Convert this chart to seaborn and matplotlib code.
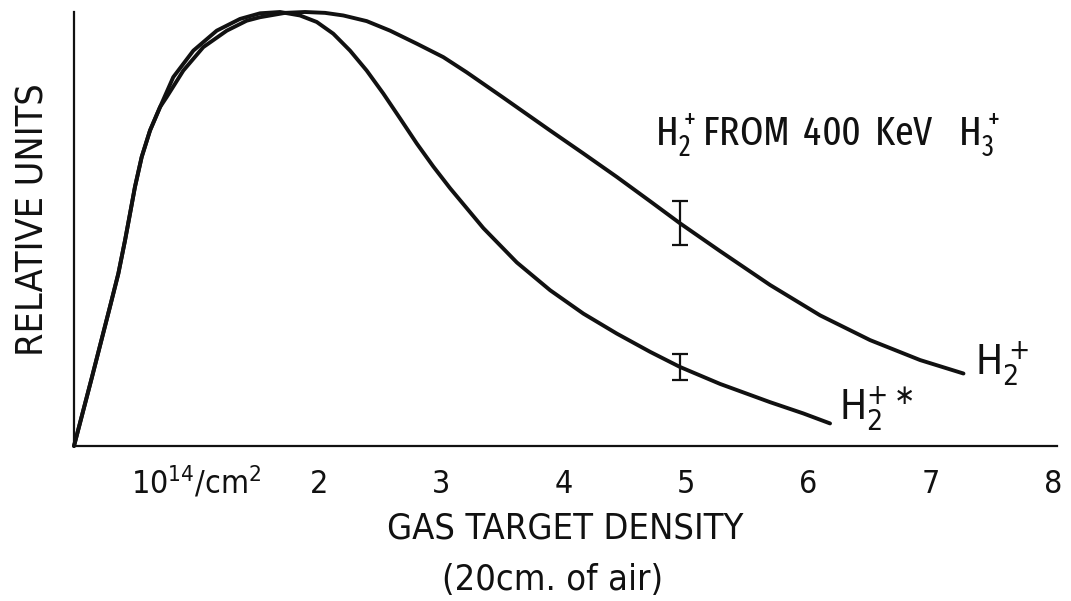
import matplotlib
matplotlib.use("Agg")
import matplotlib.pyplot as plt
import matplotlib.font_manager as fm
import seaborn as sns
import pandas as pd

# ---- data ----
x_h2 = [0, 0.147, 0.294, 0.362, 0.417, 0.458, 0.498, 0.553, 0.621, 0.703, 0.757, 0.893,
        1.056, 1.248, 1.411, 1.520, 1.724, 1.887, 2.051, 2.200, 2.391, 2.582, 2.800, 3.017,
        3.208, 3.505, 3.889, 4.161, 4.434, 4.706, 4.951, 5.278, 5.686, 6.095, 6.503, 6.912,
        7.266]
y_h2 = [0, 0.159, 0.321, 0.397, 0.474, 0.536, 0.597, 0.666, 0.727, 0.781, 0.804, 0.865,
        0.919, 0.957, 0.980, 0.988, 0.998, 1.000, 0.998, 0.992, 0.979, 0.957, 0.927, 0.896,
        0.861, 0.803, 0.727, 0.674, 0.620, 0.564, 0.513, 0.449, 0.371, 0.301, 0.244, 0.198,
        0.167]

x_h2s = [0, 0.147, 0.294, 0.362, 0.417, 0.458, 0.498, 0.553, 0.621, 0.703, 0.811, 0.975,
         1.166, 1.356, 1.520, 1.683, 1.846, 1.983, 2.118, 2.255, 2.391, 2.527, 2.663, 2.800,
         2.935, 3.072, 3.344, 3.617, 3.889, 4.161, 4.434, 4.706, 4.951, 5.278, 5.686, 5.958,
         6.176]
y_h2s = [0, 0.159, 0.321, 0.397, 0.474, 0.536, 0.597, 0.666, 0.727, 0.781, 0.850, 0.911,
         0.957, 0.984, 0.997, 1.000, 0.992, 0.977, 0.950, 0.911, 0.865, 0.812, 0.755, 0.697,
         0.644, 0.594, 0.502, 0.423, 0.359, 0.305, 0.259, 0.217, 0.182, 0.143, 0.101, 0.075,
         0.052]

err_x = [4.951, 4.951]
err_y = [0.513, 0.182]
err_size = [0.051, 0.029]

tick_pos = [1, 2, 3, 4, 5, 6, 7, 8]
tick_labels = [r'$\mathregular{10^{14}/cm^{2}}$', '2', '3', '4', '5', '6', '7', '8']

series_names = ['H2+', 'H2+*']

# ---- fonts: condensed sans faces if installed ----
sns.set_style("white")


def pick_font(prefs):
    entries = fm.fontManager.ttflist
    for pref in prefs:
        for f in entries:
            nm = f.name or ''
            if f.style != 'normal':
                continue
            if 'Mono' in nm or 'Serif' in nm or 'CJK' in nm or 'Display' in nm:
                continue
            w = f.weight if isinstance(f.weight, int) else 400
            if w != 400:
                continue
            if pref == 'condensed':
                ok = f.stretch == 'condensed' or ('Condensed' in nm and 'Extra' not in nm
                                                  and 'Semi' not in nm) or 'Narrow' in nm
            else:
                ok = f.stretch == pref or (pref == 'extra-condensed' and
                                           'ExtraCondensed' in nm.replace(' ', ''))
            if ok:
                return f.fname
    return fm.findfont(fm.FontProperties(family='Liberation Sans'))


FONT_MAIN = pick_font(['condensed', 'semi-condensed', 'extra-condensed'])
FONT_NARROW = pick_font(['extra-condensed', 'condensed', 'semi-condensed'])


def fp(size, narrow=False):
    return fm.FontProperties(fname=FONT_NARROW if narrow else FONT_MAIN, size=size)


plt.rcParams['mathtext.default'] = 'regular'
INK = '#111111'

df = pd.concat([
    pd.DataFrame({'density': x_h2, 'rel': y_h2, 'ion': series_names[0]}),
    pd.DataFrame({'density': x_h2s, 'rel': y_h2s, 'ion': series_names[1]}),
], ignore_index=True)

fig = plt.figure(figsize=(10.71, 6.01), dpi=100)
ax = fig.add_axes([74/1071, (601-446)/601, (1057-74)/1071, (446-12)/601])

sns.lineplot(data=df, x='density', y='rel', hue='ion', units='ion', estimator=None,
             sort=False, palette=[INK, INK], linewidth=2.8, legend=False,
             ax=ax, clip_on=False)

ax.errorbar(err_x, err_y, yerr=err_size, fmt='none', ecolor=INK,
            elinewidth=1.6, capsize=6, capthick=1.6, clip_on=False)

ax.set_xlim(0, 8.03)
ax.set_ylim(0, 1.0)
ax.set_xticks(tick_pos)
ax.set_xticklabels(tick_labels, fontproperties=fp(23), color=INK)
ax.set_yticks([])
ax.tick_params(axis='x', direction='in', length=12, width=1.4, color=INK, pad=34)
plt.setp(ax.get_xticklabels(), va='baseline')
for s in ['top', 'right']:
    ax.spines[s].set_visible(False)
for s in ['left', 'bottom']:
    ax.spines[s].set_color(INK)
    ax.spines[s].set_linewidth(1.6)

ax.set_ylabel('RELATIVE UNITS', fontproperties=fp(27), color=INK)
ax.yaxis.set_label_coords(-0.0224, 0.521)
ax.set_xlabel('GAS TARGET DENSITY', fontproperties=fp(26), color=INK, labelpad=8)
fig.text(553/1071, 1 - 580/601, '(20cm. of air)', fontproperties=fp(26), color=INK,
         ha='center', va='center')

title = ax.text(4.75, 0.693, r'$\mathregular{H_2^+FROM\ 400\ KeV\ \ H_3^+}$',
                fontproperties=fp(30, narrow=True), color=INK, ha='left', va='baseline')
ax.text(7.36, 0.163, r'$\mathregular{H_2^+}$', fontproperties=fp(29), color=INK,
        ha='left', va='baseline')
ax.text(6.25, 0.060, r'$\mathregular{H_2^{+\ast}}$', fontproperties=fp(29), color=INK,
        ha='left', va='baseline')

# fit the annotation to the width it takes in the reference
renderer = fig.canvas.get_renderer()
w = title.get_window_extent(renderer).width
size = min(32, 30 * 345.0 / w)
title.set_fontproperties(fp(size, narrow=True))

fig.savefig('out.png', dpi=100, facecolor='white')
